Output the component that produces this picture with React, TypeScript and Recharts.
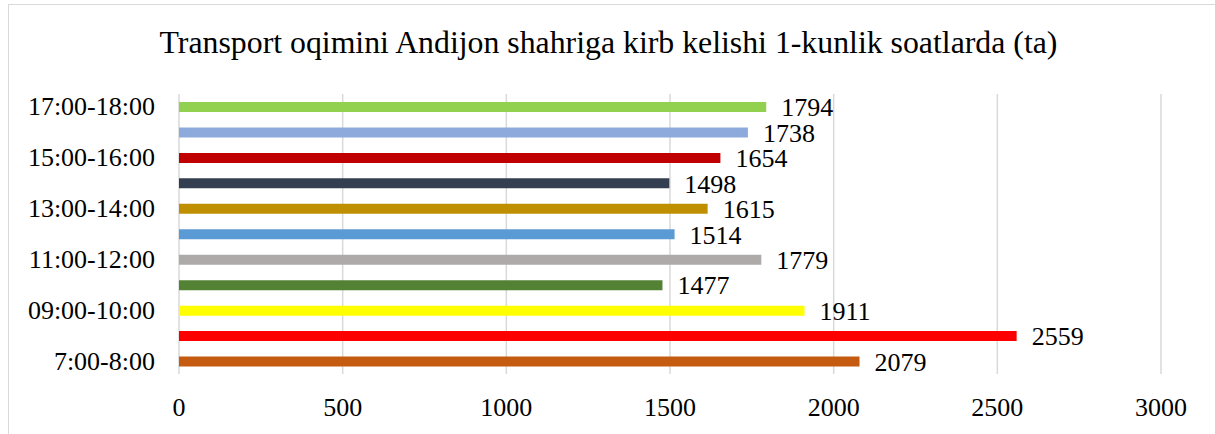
import React from "react";
import { BarChart, Bar, XAxis, YAxis, CartesianGrid, Cell, LabelList } from "recharts";

const categories = [
  "17:00-18:00",
  "16:00-17:00",
  "15:00-16:00",
  "14:00-15:00",
  "13:00-14:00",
  "12:00-13:00",
  "11:00-12:00",
  "10:00-11:00",
  "09:00-10:00",
  "08:00-09:00",
  "7:00-8:00",
];
const values = [1794, 1738, 1654, 1498, 1615, 1514, 1779, 1477, 1911, 2559, 2079];
const colors = [
  "#92D050",
  "#8EA9DB",
  "#C00000",
  "#333F50",
  "#BF8F00",
  "#5B9BD5",
  "#AEAAAA",
  "#548235",
  "#FFFF00",
  "#FF0000",
  "#C55A11",
];
const xTicks = [0, 500, 1000, 1500, 2000, 2500, 3000];
const title = "Transport oqimini Andijon shahriga kirb kelishi 1-kunlik soatlarda (ta)";

const data = categories.map((c, i) => ({ label: c, value: values[i] }));

const FONT = "Liberation Serif, Times New Roman, serif";

const XTick = (props: any) => {
  const { x, y, payload } = props;
  return (
    <text x={x} y={y} dy={42} textAnchor="middle" fontFamily={FONT} fontSize={26} fill="#000">
      {payload.value}
    </text>
  );
};

const YTick = (props: any) => {
  const { x, y, payload } = props;
  return (
    <text x={x} y={y} dy="0.33em" textAnchor="end" fontFamily={FONT} fontSize={26} fill="#000">
      {payload.value}
    </text>
  );
};

export default function App() {
  return (
    <div style={{ position: "fixed", left: 0, top: 0, width: 1215, height: 434, overflow: "hidden", background: "#fff" }}>
      <div
        style={{
          position: "absolute",
          left: 8,
          top: 4,
          width: 1230,
          height: 450,
          border: "1px solid #d9d9d9",
          boxSizing: "border-box",
        }}
      />
      <svg width={1215} height={80} style={{ position: "absolute", left: 0, top: 0 }}>
        <text x={608.5} y={53} textAnchor="middle" fontFamily={FONT} fontSize={31.8} fill="#000">
          {title}
        </text>
      </svg>
      <div style={{ position: "absolute", left: 0, top: 0 }}>
        <BarChart
          width={1215}
          height={434}
          data={data}
          layout="vertical"
          margin={{ top: 94, right: 54, bottom: 0, left: 0 }}
          barSize={10}
        >
          <CartesianGrid horizontal={false} stroke="#d9d9d9" strokeWidth={1.5} />
          <XAxis
            type="number"
            domain={[0, 3000]}
            ticks={xTicks}
            axisLine={false}
            tickLine={false}
            tickSize={0}
            tickMargin={0}
            height={60}
            tick={<XTick />}
            interval={0}
          />
          <YAxis
            type="category"
            dataKey="label"
            width={179}
            axisLine={false}
            tickLine={false}
            tickSize={0}
            tickMargin={24}
            interval={1}
            tick={<YTick />}
          />
          <Bar dataKey="value" isAnimationActive={false}>
            {data.map((d, i) => (
              <Cell key={d.label} fill={colors[i]} />
            ))}
            <LabelList
              dataKey="value"
              position="right"
              offset={15}
              fontFamily={FONT}
              fontSize={26}
              fill="#000"
            />
          </Bar>
        </BarChart>
      </div>
    </div>
  );
}
